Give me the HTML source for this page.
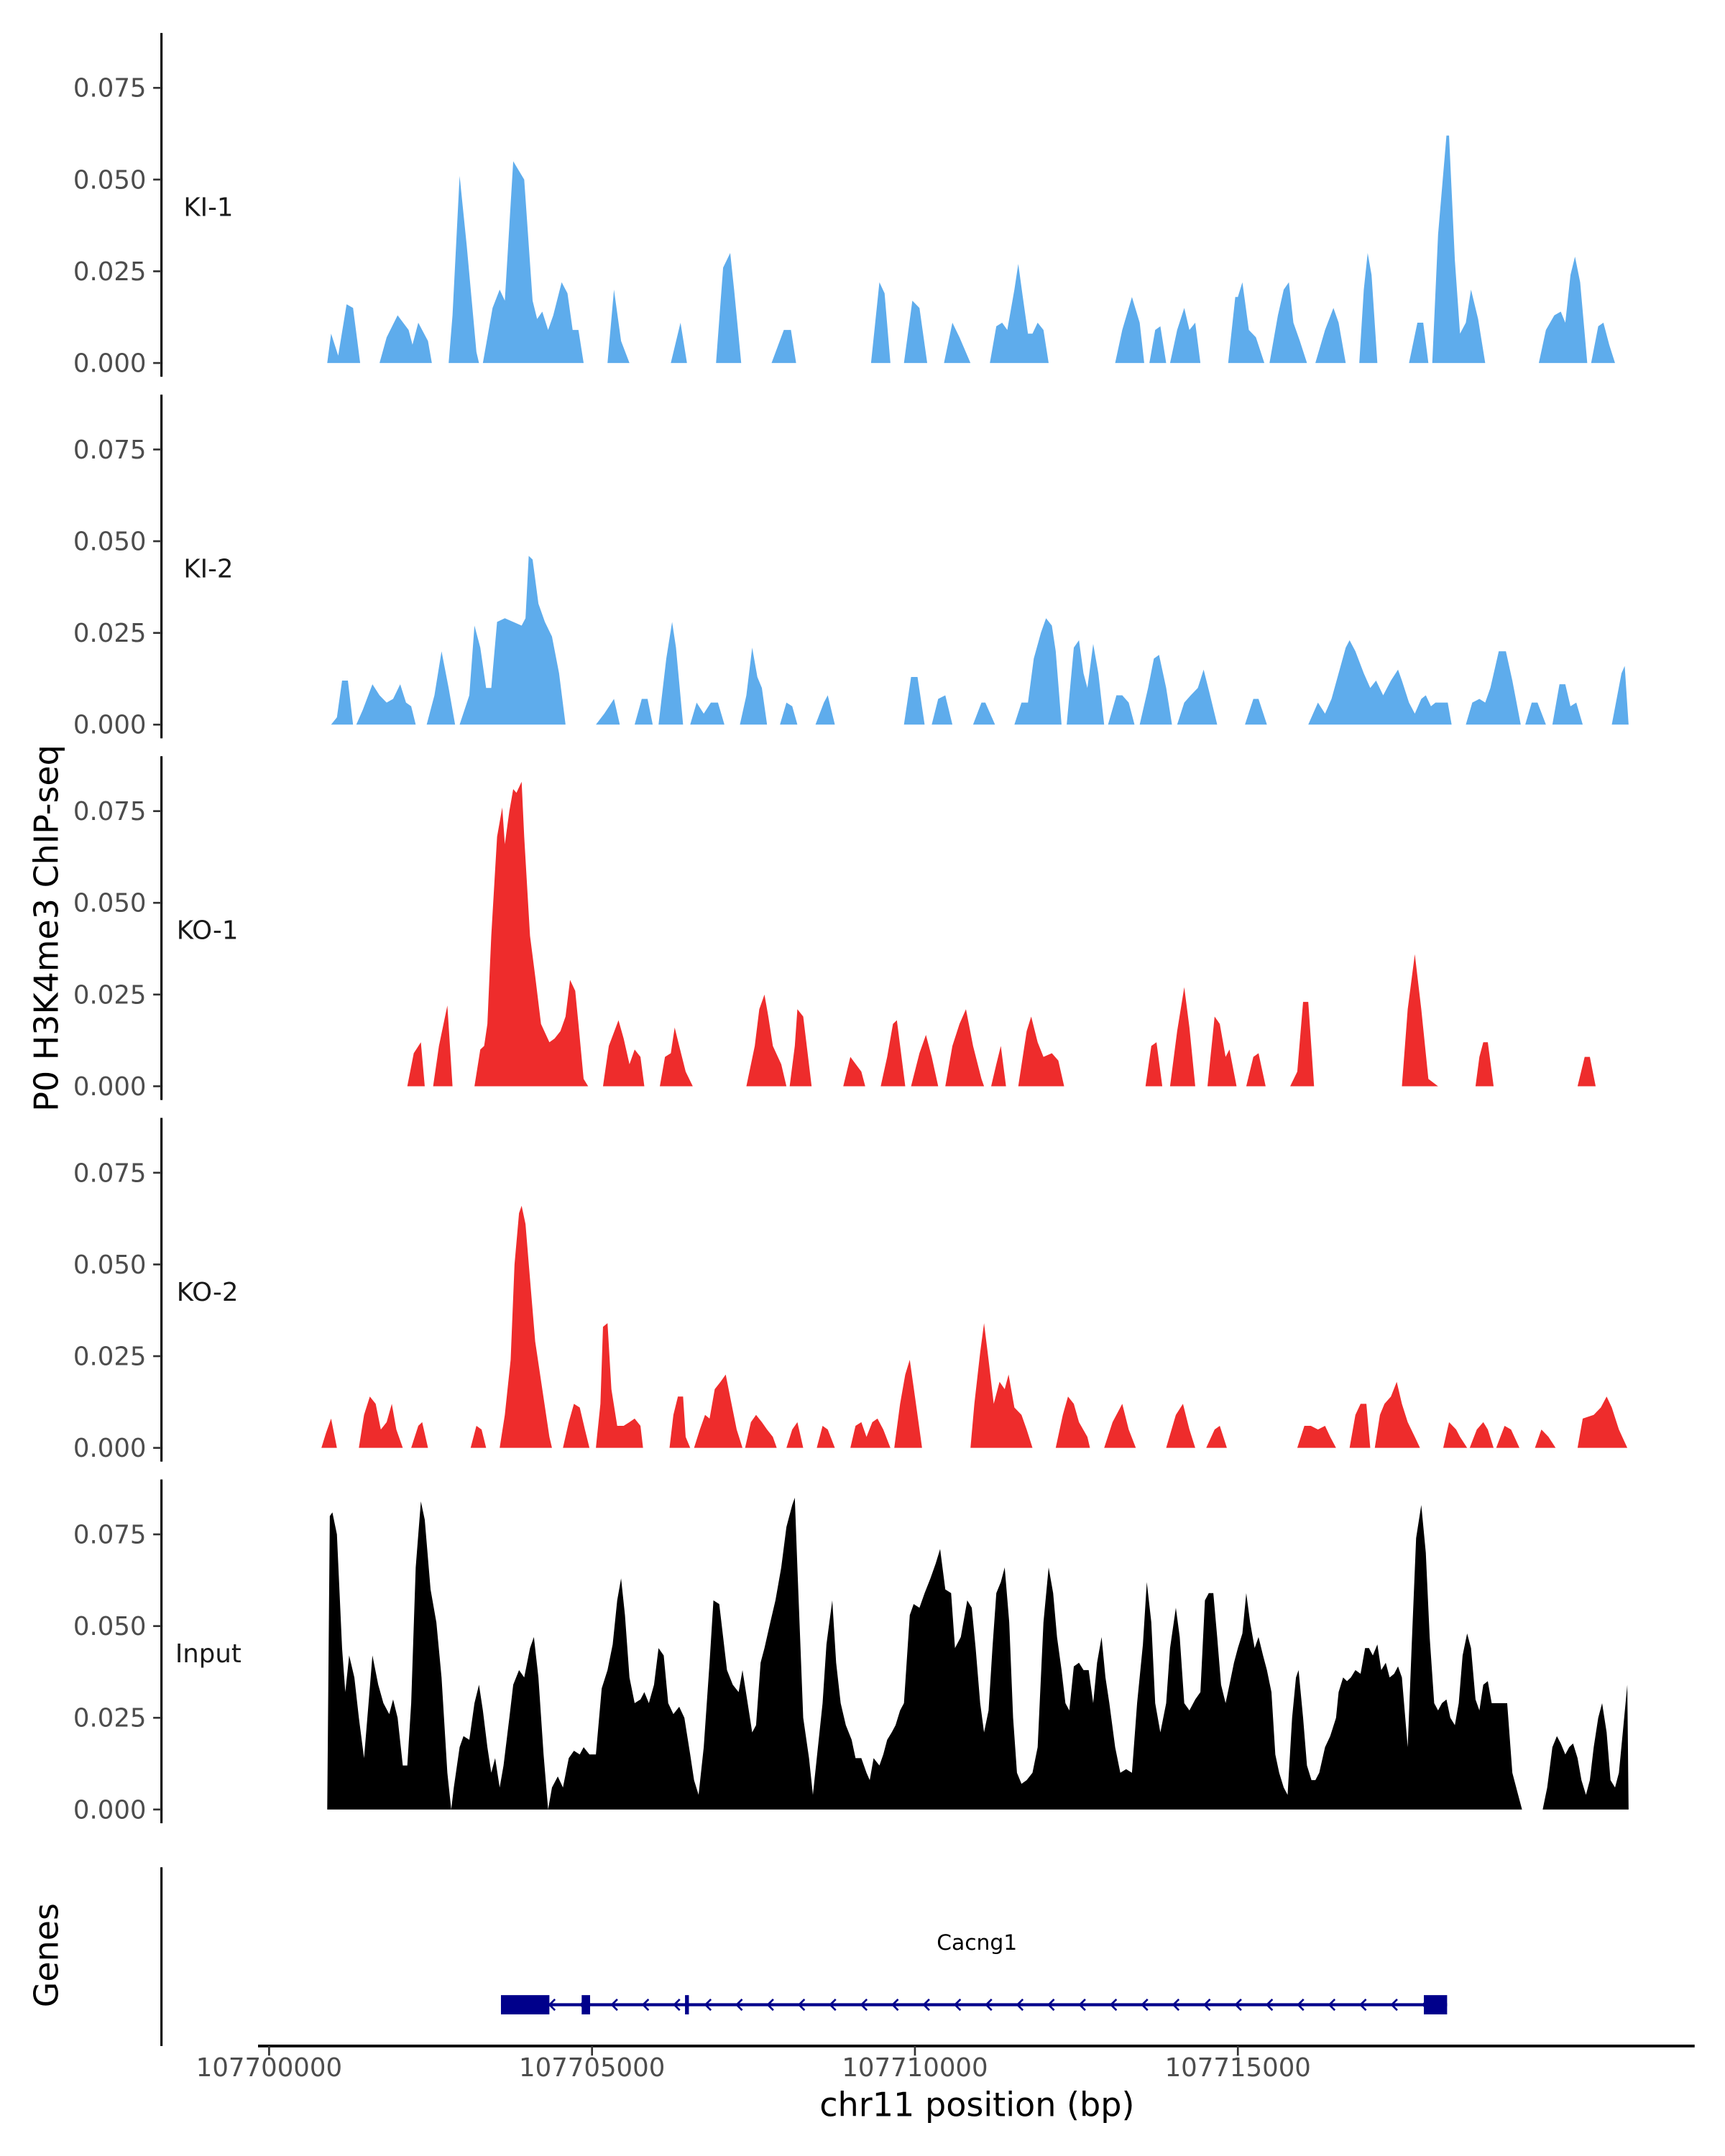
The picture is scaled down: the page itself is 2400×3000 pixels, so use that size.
<!DOCTYPE html>
<html><head><meta charset="utf-8"><title>P0 H3K4me3 ChIP-seq tracks</title>
<style>html,body{margin:0;padding:0;background:#fff}svg{display:block}text{font-family:"DejaVu Sans","Liberation Sans",sans-serif}</style>
</head><body>
<svg id="chart" xmlns="http://www.w3.org/2000/svg" width="2400" height="3000" viewBox="0 0 1250 1568" preserveAspectRatio="none">
<rect width="1250" height="1568" fill="#fff"/>
<g id="tracks"></g>
<g id="genes"></g>
<g id="xaxis"></g>
<text x="42" y="675" transform="rotate(-90 42 675)" text-anchor="middle" font-size="24" fill="#000">P0 H3K4me3 ChIP-seq</text>
<text x="42" y="1422" transform="rotate(-90 42 1422)" text-anchor="middle" font-size="24" fill="#000">Genes</text>
<text x="708" y="1539" text-anchor="middle" font-size="24" fill="#000">chr11 position (bp)</text>
</svg>
<script>
// Genomic positions are kb offsets from 107,700,000; values are signal.
const genomeBase = 107700000;
const yTicks = [0, 0.025, 0.05, 0.075];
const yTickLabels = ["0.000", "0.025", "0.050", "0.075"];
const xTicks = [107700000, 107705000, 107710000, 107715000];
const xTickLabels = ["107700000", "107705000", "107710000", "107715000"];
const sampleNames = ["KI-1", "KI-2", "KO-1", "KO-2", "Input"];
const sampleColors = ["#5eacec", "#5eacec", "#ee2c2c", "#ee2c2c", "#000000"];

const KI1 = [[0.90,0],[0.96,.008],[1.07,.002],[1.20,.016],[1.30,.015],[1.41,0],[1.71,0],[1.82,.007],[1.99,.013],[2.16,.009],[2.22,.005],[2.31,.011],[2.46,.006],[2.52,0],[2.78,0],[2.84,.013],[2.95,.051],[3.06,.032],[3.21,.003],[3.25,0],[3.31,0],[3.46,.015],[3.57,.020],[3.65,.017],[3.78,.055],[3.95,.050],[4.08,.017],[4.15,.012],[4.23,.014],[4.32,.009],[4.40,.013],[4.53,.022],[4.62,.019],[4.70,.009],[4.79,.009],[4.87,0],[5.24,0],[5.34,.020],[5.45,.006],[5.58,0],[6.22,0],[6.37,.011],[6.47,0],[6.92,0],[7.03,.026],[7.14,.030],[7.20,.020],[7.31,0],[7.78,0],[7.97,.009],[8.08,.009],[8.16,0],[9.32,0],[9.45,.022],[9.53,.019],[9.62,0],[9.83,0],[9.96,.017],[10.07,.015],[10.19,0],[10.45,0],[10.58,.011],[10.69,.007],[10.86,0],[11.16,0],[11.26,.010],[11.35,.011],[11.43,.009],[11.54,.020],[11.60,.027],[11.67,.018],[11.75,.008],[11.82,.008],[11.90,.011],[11.99,.009],[12.07,0],[13.10,0],[13.21,.009],[13.36,.018],[13.48,.011],[13.55,0],[13.63,0],[13.72,.009],[13.80,.010],[13.89,0],[13.95,0],[14.06,.009],[14.17,.015],[14.25,.009],[14.34,.011],[14.42,0],[14.85,0],[14.96,.018],[15.00,.018],[15.07,.022],[15.17,.009],[15.28,.007],[15.41,0],[15.49,0],[15.62,.013],[15.71,.020],[15.79,.022],[15.86,.011],[15.96,.006],[16.07,0],[16.20,0],[16.35,.009],[16.48,.015],[16.56,.011],[16.67,0],[16.88,0],[16.95,.020],[17.01,.030],[17.07,.024],[17.16,0],[17.65,0],[17.78,.011],[17.87,.011],[17.95,0],[18.01,0],[18.10,.035],[18.23,.062],[18.27,.062],[18.36,.028],[18.44,.008],[18.53,.011],[18.61,.020],[18.72,.012],[18.83,0],[19.66,0],[19.77,.009],[19.90,.013],[20.00,.014],[20.07,.011],[20.15,.024],[20.22,.029],[20.30,.022],[20.41,0],[20.47,0],[20.58,.010],[20.66,.011],[20.75,.005],[20.84,0]];

const KI2 = [[0.96,0],[1.05,.002],[1.13,.012],[1.22,.012],[1.30,0],[1.35,0],[1.45,.004],[1.60,.011],[1.71,.008],[1.82,.006],[1.92,.007],[2.03,.011],[2.12,.006],[2.20,.005],[2.27,0],[2.44,0],[2.56,.008],[2.67,.020],[2.78,.010],[2.88,0],[2.95,0],[3.10,.008],[3.18,.027],[3.27,.021],[3.36,.010],[3.44,.010],[3.53,.028],[3.65,.029],[3.78,.028],[3.91,.027],[3.97,.029],[4.02,.046],[4.08,.045],[4.17,.033],[4.27,.028],[4.38,.024],[4.49,.014],[4.59,0],[5.06,0],[5.19,.003],[5.34,.007],[5.43,0],[5.66,0],[5.77,.007],[5.86,.007],[5.94,0],[6.03,0],[6.15,.018],[6.24,.028],[6.30,.021],[6.41,0],[6.52,0],[6.62,.006],[6.73,.003],[6.84,.006],[6.95,.006],[7.05,0],[7.29,0],[7.39,.008],[7.48,.021],[7.56,.013],[7.63,.010],[7.71,0],[7.91,0],[8.01,.006],[8.10,.005],[8.18,0],[8.46,0],[8.59,.006],[8.65,.008],[8.76,0],[9.83,0],[9.94,.013],[10.04,.013],[10.15,0],[10.26,0],[10.36,.007],[10.47,.008],[10.58,0],[10.90,0],[11.03,.006],[11.09,.006],[11.24,0],[11.54,0],[11.65,.006],[11.75,.006],[11.84,.018],[11.95,.025],[12.03,.029],[12.12,.027],[12.18,.020],[12.27,0],[12.35,0],[12.46,.021],[12.54,.023],[12.61,.014],[12.67,.010],[12.76,.022],[12.84,.014],[12.93,0],[12.99,0],[13.12,.008],[13.21,.008],[13.31,.006],[13.40,0],[13.48,0],[13.61,.010],[13.70,.018],[13.78,.019],[13.89,.010],[13.98,0],[14.06,0],[14.17,.006],[14.27,.008],[14.38,.010],[14.47,.015],[14.57,.008],[14.68,0],[15.11,0],[15.24,.007],[15.32,.007],[15.45,0],[16.09,0],[16.24,.006],[16.35,.003],[16.45,.007],[16.56,.014],[16.67,.021],[16.73,.023],[16.82,.020],[16.95,.014],[17.05,.010],[17.14,.012],[17.25,.008],[17.37,.012],[17.48,.015],[17.54,.012],[17.65,.006],[17.74,.003],[17.84,.007],[17.91,.008],[17.99,.005],[18.06,.006],[18.16,.006],[18.25,.006],[18.31,0],[18.53,0],[18.63,.006],[18.74,.007],[18.83,.006],[18.91,.010],[19.04,.020],[19.15,.020],[19.25,.012],[19.38,0],[19.45,0],[19.55,.006],[19.64,.006],[19.77,0],[19.87,0],[19.98,.011],[20.07,.011],[20.15,.005],[20.24,.006],[20.34,0],[20.79,0],[20.94,.014],[20.99,.016],[21.05,0]];

const KO1 = [[2.14,0],[2.24,.009],[2.35,.012],[2.41,0],[2.54,0],[2.63,.011],[2.76,.022],[2.84,0],[3.18,0],[3.27,.010],[3.33,.011],[3.38,.017],[3.44,.041],[3.53,.068],[3.61,.076],[3.65,.066],[3.72,.075],[3.78,.081],[3.83,.080],[3.91,.083],[3.95,.068],[4.04,.041],[4.12,.030],[4.21,.017],[4.34,.012],[4.42,.013],[4.51,.015],[4.59,.019],[4.66,.029],[4.74,.026],[4.79,.017],[4.87,.002],[4.94,0],[5.17,0],[5.26,.011],[5.41,.018],[5.49,.013],[5.58,.006],[5.66,.010],[5.75,.008],[5.81,0],[6.05,0],[6.13,.008],[6.22,.009],[6.28,.016],[6.35,.011],[6.45,.004],[6.56,0],[7.39,0],[7.52,.011],[7.59,.021],[7.67,.025],[7.73,.019],[7.80,.011],[7.93,.006],[8.01,0],[8.06,0],[8.14,.011],[8.18,.021],[8.27,.019],[8.40,0],[8.89,0],[9.00,.008],[9.17,.004],[9.23,0],[9.47,0],[9.57,.008],[9.66,.017],[9.72,.018],[9.85,0],[9.94,0],[10.07,.009],[10.17,.014],[10.26,.008],[10.36,0],[10.47,0],[10.58,.011],[10.69,.017],[10.79,.021],[10.90,.011],[11.03,.002],[11.07,0],[11.18,0],[11.26,.006],[11.33,.011],[11.41,0],[11.60,0],[11.73,.015],[11.80,.019],[11.90,.012],[11.99,.008],[12.12,.009],[12.22,.007],[12.31,0],[13.57,0],[13.66,.011],[13.74,.012],[13.83,0],[13.95,0],[14.06,.015],[14.17,.027],[14.25,.016],[14.34,0],[14.53,0],[14.64,.019],[14.72,.017],[14.81,.008],[14.87,.010],[14.98,0],[15.13,0],[15.24,.008],[15.32,.009],[15.43,0],[15.81,0],[15.92,.004],[16.01,.023],[16.09,.023],[16.18,0],[17.54,0],[17.63,.021],[17.74,.036],[17.84,.021],[17.95,.002],[18.10,0],[18.68,0],[18.74,.008],[18.80,.012],[18.87,.012],[18.96,0],[20.26,0],[20.37,.008],[20.45,.008],[20.54,0]];

const KO2 = [[0.81,0],[0.88,.004],[0.96,.008],[1.05,0],[1.39,0],[1.47,.009],[1.56,.014],[1.65,.012],[1.73,.005],[1.82,.007],[1.90,.012],[1.97,.005],[2.07,0],[2.20,0],[2.31,.006],[2.37,.007],[2.46,0],[3.12,0],[3.21,.006],[3.29,.005],[3.36,0],[3.57,0],[3.65,.009],[3.74,.024],[3.80,.050],[3.87,.064],[3.91,.066],[3.97,.061],[4.04,.046],[4.12,.029],[4.23,.016],[4.34,.003],[4.38,0],[4.55,0],[4.64,.007],[4.72,.012],[4.81,.011],[4.89,.005],[4.96,0],[5.06,0],[5.13,.012],[5.17,.033],[5.24,.034],[5.30,.016],[5.39,.006],[5.49,.006],[5.58,.007],[5.66,.008],[5.75,.006],[5.79,0],[6.20,0],[6.26,.009],[6.33,.014],[6.41,.014],[6.45,.003],[6.52,0],[6.58,0],[6.67,.005],[6.75,.009],[6.82,.008],[6.90,.016],[6.99,.018],[7.07,.020],[7.16,.012],[7.24,.005],[7.33,0],[7.37,0],[7.46,.007],[7.54,.009],[7.63,.007],[7.71,.005],[7.80,.003],[7.86,0],[8.01,0],[8.10,.005],[8.18,.007],[8.27,0],[8.48,0],[8.57,.006],[8.65,.005],[8.76,0],[9.00,0],[9.08,.006],[9.17,.007],[9.25,.003],[9.34,.007],[9.42,.008],[9.51,.005],[9.62,0],[9.68,0],[9.77,.012],[9.85,.020],[9.92,.024],[10.00,.014],[10.11,0],[10.86,0],[10.92,.012],[11.01,.026],[11.07,.034],[11.14,.024],[11.22,.012],[11.31,.018],[11.39,.016],[11.45,.020],[11.54,.011],[11.65,.009],[11.73,.005],[11.82,0],[12.18,0],[12.29,.009],[12.37,.014],[12.46,.012],[12.54,.007],[12.67,.003],[12.71,0],[12.93,0],[13.06,.007],[13.21,.012],[13.31,.005],[13.42,0],[13.89,0],[14.04,.009],[14.15,.012],[14.25,.005],[14.34,0],[14.51,0],[14.64,.005],[14.72,.006],[14.83,0],[15.92,0],[16.03,.006],[16.13,.006],[16.24,.005],[16.35,.006],[16.43,.003],[16.52,0],[16.73,0],[16.82,.009],[16.90,.012],[16.99,.012],[17.05,0],[17.12,0],[17.20,.009],[17.27,.012],[17.37,.014],[17.46,.018],[17.54,.012],[17.63,.007],[17.74,.003],[17.82,0],[18.18,0],[18.27,.007],[18.38,.005],[18.44,.003],[18.55,0],[18.59,0],[18.70,.005],[18.80,.007],[18.87,.005],[18.96,0],[19.00,0],[19.13,.006],[19.23,.005],[19.36,0],[19.60,0],[19.70,.005],[19.81,.003],[19.92,0],[20.26,0],[20.34,.008],[20.51,.009],[20.62,.011],[20.71,.014],[20.79,.011],[20.90,.005],[21.03,0]];

const INPUT = [[0.90,0],[0.94,.080],[0.98,.081],[1.05,.075],[1.13,.044],[1.18,.032],[1.24,.042],[1.32,.036],[1.39,.025],[1.47,.014],[1.54,.029],[1.60,.042],[1.69,.034],[1.77,.029],[1.86,.026],[1.92,.030],[1.99,.025],[2.07,.012],[2.14,.012],[2.20,.029],[2.27,.066],[2.35,.084],[2.41,.079],[2.50,.060],[2.59,.051],[2.67,.036],[2.76,.010],[2.82,0],[2.86,.006],[2.95,.017],[3.01,.020],[3.10,.019],[3.18,.029],[3.25,.034],[3.31,.027],[3.38,.017],[3.44,.010],[3.50,.014],[3.57,.006],[3.63,.012],[3.72,.025],[3.78,.034],[3.87,.038],[3.95,.036],[4.04,.044],[4.10,.047],[4.17,.036],[4.25,.015],[4.32,0],[4.38,.006],[4.47,.009],[4.55,.006],[4.64,.014],[4.72,.016],[4.81,.015],[4.87,.017],[4.96,.015],[5.06,.015],[5.15,.033],[5.24,.038],[5.32,.045],[5.39,.057],[5.45,.063],[5.51,.053],[5.58,.036],[5.66,.029],[5.75,.030],[5.81,.032],[5.88,.029],[5.96,.034],[6.03,.044],[6.11,.042],[6.18,.029],[6.26,.026],[6.35,.028],[6.43,.025],[6.52,.015],[6.58,.008],[6.65,.004],[6.73,.017],[6.82,.040],[6.88,.057],[6.97,.056],[7.03,.047],[7.09,.038],[7.18,.034],[7.27,.032],[7.33,.038],[7.41,.029],[7.48,.021],[7.54,.023],[7.61,.040],[7.67,.044],[7.76,.051],[7.84,.057],[7.93,.066],[8.01,.077],[8.10,.083],[8.14,.085],[8.18,.066],[8.27,.025],[8.36,.014],[8.42,.004],[8.48,.014],[8.57,.029],[8.63,.045],[8.72,.057],[8.78,.040],[8.85,.029],[8.93,.023],[9.02,.019],[9.08,.014],[9.17,.014],[9.25,.010],[9.30,.008],[9.36,.014],[9.45,.012],[9.51,.015],[9.57,.019],[9.64,.021],[9.70,.023],[9.77,.027],[9.83,.029],[9.92,.053],[9.98,.056],[10.07,.055],[10.15,.059],[10.24,.063],[10.32,.067],[10.39,.071],[10.47,.060],[10.56,.059],[10.62,.044],[10.71,.047],[10.75,.051],[10.81,.057],[10.88,.055],[10.94,.044],[11.01,.029],[11.07,.021],[11.14,.027],[11.20,.044],[11.26,.059],[11.33,.062],[11.39,.066],[11.46,.051],[11.52,.025],[11.58,.010],[11.65,.007],[11.73,.008],[11.82,.010],[11.90,.017],[11.99,.051],[12.07,.066],[12.14,.059],[12.20,.047],[12.27,.038],[12.33,.029],[12.39,.027],[12.46,.039],[12.54,.040],[12.61,.038],[12.69,.038],[12.76,.029],[12.82,.040],[12.89,.047],[12.95,.036],[13.01,.029],[13.10,.017],[13.18,.010],[13.27,.011],[13.36,.010],[13.44,.029],[13.53,.045],[13.59,.062],[13.66,.051],[13.72,.029],[13.80,.021],[13.89,.029],[13.95,.044],[14.04,.055],[14.10,.047],[14.17,.029],[14.25,.027],[14.34,.030],[14.42,.032],[14.49,.057],[14.55,.059],[14.62,.059],[14.68,.047],[14.74,.034],[14.81,.029],[14.87,.034],[14.94,.040],[15.00,.044],[15.07,.048],[15.13,.059],[15.19,.051],[15.26,.044],[15.32,.047],[15.39,.042],[15.45,.038],[15.52,.032],[15.58,.015],[15.64,.010],[15.71,.006],[15.77,.004],[15.84,.025],[15.90,.036],[15.94,.038],[16.01,.025],[16.07,.012],[16.14,.008],[16.20,.008],[16.26,.010],[16.35,.017],[16.43,.020],[16.52,.025],[16.56,.032],[16.63,.036],[16.69,.035],[16.75,.036],[16.82,.038],[16.90,.037],[16.97,.044],[17.03,.044],[17.09,.042],[17.16,.045],[17.22,.038],[17.29,.040],[17.35,.036],[17.42,.037],[17.48,.039],[17.54,.036],[17.63,.017],[17.69,.044],[17.76,.074],[17.84,.083],[17.91,.070],[17.97,.047],[18.04,.029],[18.10,.027],[18.16,.029],[18.23,.030],[18.29,.025],[18.36,.023],[18.42,.029],[18.48,.042],[18.55,.048],[18.61,.044],[18.68,.030],[18.74,.027],[18.80,.034],[18.87,.035],[18.93,.029],[19.00,.029],[19.08,.029],[19.17,.029],[19.25,.010],[19.34,.004],[19.40,0],[19.72,0],[19.79,.006],[19.87,.017],[19.94,.020],[20.00,.018],[20.07,.015],[20.13,.017],[20.19,.018],[20.26,.014],[20.32,.008],[20.39,.004],[20.45,.008],[20.51,.017],[20.58,.025],[20.64,.029],[20.71,.021],[20.77,.008],[20.84,.006],[20.90,.010],[20.96,.021],[21.03,.034],[21.05,0]];

const sampleData = [KI1, KI2, KO1, KO2, INPUT];

// Gene model (kb offsets)
const geneStart = 3.59, geneEnd = 18.24;
const exonStarts = [3.59, 4.84, 6.44, 17.88];
const exonEnds = [4.34, 4.97, 6.50, 18.24];
const geneName = "Cacng1";
const geneLabelPos = 10.96;

const NS = "http://www.w3.org/2000/svg";
function mk(tag, attrs, parent) {
  const e = document.createElementNS(NS, tag);
  for (const k in attrs) e.setAttribute(k, attrs[k]);
  parent.appendChild(e);
  return e;
}
// axis functions
const xScale = kb => 195 + kb * 46.8;
const xScaleBp = bp => xScale((bp - genomeBase) / 1000);
const panelBase = [264, 527, 790, 1053, 1316];
const yScale = (v, p) => panelBase[p] - v * 2668;
const labelX = [133, 133, 128, 128, 127];

const tracks = document.getElementById('tracks');
sampleNames.forEach((name, p) => {
  const g = mk('g', {}, tracks);
  
  
  const base = panelBase[p];
  const ax = mk('line', {x1: 117, x2: 117, y1: base - 240, y2: base + 10, stroke: '#000', 'stroke-width': 1.6}, g);
  
  
  yTicks.forEach((t, i) => {
    const y = yScale(t, p);
    const tk = mk('line', {x1: 111, x2: 117, y1: y, y2: y, stroke: '#333', 'stroke-width': 1.4}, g);
    
    
    const tl = mk('text', {x: 106, y: y + 6.5, 'text-anchor': 'end', 'font-size': 18.5, fill: '#4d4d4d'}, g);
    tl.textContent = yTickLabels[i];
    
    
  });
  const lab = mk('text', {x: labelX[p], y: base - 107, 'font-size': 18.5, fill: '#1a1a1a'}, g);
  lab.textContent = name;
  
  
  const pts = sampleData[p];
  let d = '';
  pts.forEach((pt, i) => {
    d += (i ? 'L' : 'M') + xScale(pt[0]).toFixed(2) + ',' + yScale(pt[1], p).toFixed(2);
  });
  d += 'Z';
  const area = mk('path', {d: d, fill: sampleColors[p], stroke: 'none'}, g);
  
  
});

// Genes panel
const gp = document.getElementById('genes');
const gax = mk('line', {x1: 117, x2: 117, y1: 1358, y2: 1488, stroke: '#000', 'stroke-width': 1.6}, gp);


const gy = 1458;
const gl = mk('line', {x1: xScale(geneStart), x2: xScale(geneEnd), y1: gy, y2: gy, stroke: '#00008b', 'stroke-width': 2.2}, gp);


for (let kb = geneStart + 0.3; kb < geneEnd - 0.2; kb += 0.483) {
  const x = xScale(kb);
  const ch = mk('path', {d: `M${x + 2.5},${gy - 4}L${x - 1.5},${gy}L${x + 2.5},${gy + 4}`, fill: 'none', stroke: '#00008b', 'stroke-width': 1.4}, gp);
  
  
}
exonStarts.forEach((s, i) => {
  const x1 = xScale(s), x2 = xScale(exonEnds[i]);
  const big = (exonEnds[i] - s) > 0.3;
  const r = mk('rect', {x: x1, y: gy - 7, width: Math.max(2, x2 - x1), height: 14, fill: '#00008b'}, gp);
  
  
});
const gname = mk('text', {x: xScale(geneLabelPos), y: 1418, 'text-anchor': 'middle', 'font-size': 15.5, fill: '#000'}, gp);
gname.textContent = geneName;



// X axis
const xa = document.getElementById('xaxis');
const xl = mk('line', {x1: 187, x2: 1228, y1: 1488, y2: 1488, stroke: '#000', 'stroke-width': 2}, xa);


xTicks.forEach((t, i) => {
  const x = xScaleBp(t);
  const tk = mk('line', {x1: x, x2: x, y1: 1488, y2: 1495, stroke: '#333', 'stroke-width': 1.4}, xa);
  
  
  const tl = mk('text', {x: x, y: 1510, 'text-anchor': 'middle', 'font-size': 18.5, fill: '#4d4d4d'}, xa);
  tl.textContent = xTickLabels[i];
  
  
});
</script>
</body></html>
